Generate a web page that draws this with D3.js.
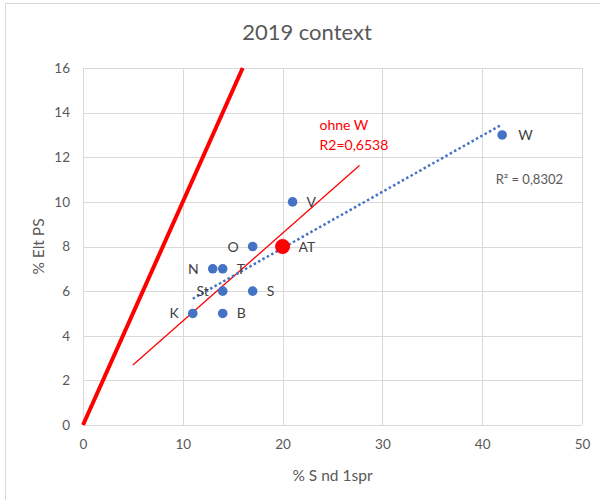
<!DOCTYPE html>
<html><head><meta charset="utf-8">
<script src="https://cdn.jsdelivr.net/npm/d3@7"></script>
<style>body{margin:0;background:#fff} text{font-family:Lato,'Open Sans',sans-serif}</style>
</head><body><svg id="c" width="600" height="500"></svg>
<script>
// ---- data ----
const names   = ["V","O","AT","N","T","St","S","K","B","W"];
const xValues = [21,17,20,13,14,14,17,11,14,42];
const yValues = [10,8,8,7,7,6,6,5,5,13];
const labelSide = ["right","left","right","left","right","left","right","left","right","right"];
const highlightedName = "AT";
const excludedName = "W";
const xTicks = [0,10,20,30,40,50];
const yTicks = [0,2,4,6,8,10,12,14,16];
const parityX = [0,16];            // thick red y = x line
const subsetLineX = [5,27.7];      // extent of red "ohne W" fit line
const title = "2019 context";
const xTitle = "% S nd 1spr";
const yTitle = "% Elt PS";
const subsetNote = "ohne W";

// ---- layout ----
const svg = d3.select("#c");
const L = 83, R = 582, T = 68, B = 425;
const x = d3.scaleLinear().domain([0,50]).range([L,R]);
const y = d3.scaleLinear().domain([0,16]).range([B,T]);
const grey = "#595959", grid = "#d9d9d9";

const pts = names.map((n,i)=>({n, x:xValues[i], y:yValues[i], side:labelSide[i]}));

function fit(arr){
  const mx = d3.mean(arr,d=>d.x), my = d3.mean(arr,d=>d.y);
  const sxy = d3.sum(arr,d=>(d.x-mx)*(d.y-my));
  const sxx = d3.sum(arr,d=>(d.x-mx)**2);
  const syy = d3.sum(arr,d=>(d.y-my)**2);
  const b = sxy/sxx, a = my - b*mx;
  return {a,b,r2:sxy*sxy/(sxx*syy)};
}
const fmt = v => d3.format(".4f")(v).replace(".",",");

// outer frame
svg.append("rect").attr("x",5.5).attr("y",3.5).attr("width",600).attr("height",500)
  .attr("fill","none").attr("stroke",grid);

// title
svg.append("text").attr("x",307).attr("y",40).attr("text-anchor","middle")
  .attr("font-size",22).attr("fill",grey).text(title);

// grid
svg.append("g").selectAll("line").data(yTicks).join("line")
  .attr("x1",L).attr("x2",R).attr("y1",d=>Math.round(y(d))+0.5).attr("y2",d=>Math.round(y(d))+0.5)
  .attr("stroke",grid);
svg.append("g").selectAll("line").data(xTicks).join("line")
  .attr("y1",T).attr("y2",B).attr("x1",d=>Math.round(x(d))+0.5).attr("x2",d=>Math.round(x(d))+0.5)
  .attr("stroke",grid);

// axes (labels only)
const yAxis = svg.append("g").attr("transform",`translate(${L},0)`)
  .call(d3.axisLeft(y).tickValues(yTicks).tickSize(0).tickPadding(13));
const xAxis = svg.append("g").attr("transform",`translate(0,${B})`)
  .call(d3.axisBottom(x).tickValues(xTicks).tickSize(0).tickPadding(14));
[yAxis,xAxis].forEach(g=>{
  g.select(".domain").remove();
  g.selectAll("text").attr("font-size",13.5).attr("fill",grey).attr("font-family","Lato,'Open Sans',sans-serif");
});

// axis titles
svg.append("text").attr("x",(L+R)/2).attr("y",481).attr("text-anchor","middle")
  .attr("font-size",15.5).attr("fill",grey).text(xTitle);
svg.append("text").attr("transform",`translate(44,${(T+B)/2}) rotate(-90)`).attr("text-anchor","middle")
  .attr("font-size",15.5).attr("fill",grey).text(yTitle);

// thick red parity line
const line = d3.line().x(d=>x(d[0])).y(d=>y(d[1]));
svg.append("path").attr("d",line(parityX.map(v=>[v,v])))
  .attr("stroke","#ff0000").attr("stroke-width",4).attr("fill","none");

// red fit without W
const fSub = fit(pts.filter(d=>d.n!==excludedName));
svg.append("path").attr("d",line(subsetLineX.map(v=>[v,fSub.a+fSub.b*v])))
  .attr("stroke","#ff0000").attr("stroke-width",1.3).attr("fill","none");

// blue dotted trendline all points
const fAll = fit(pts);
const ext = d3.extent(pts,d=>d.x);
svg.append("path").attr("d",line(ext.map(v=>[v,fAll.a+fAll.b*v])))
  .attr("stroke","#4472c4").attr("stroke-width",2.5).attr("stroke-dasharray","2.5,2.5").attr("fill","none");

// points
svg.append("g").selectAll("circle").data(pts).join("circle")
  .attr("cx",d=>x(d.x)).attr("cy",d=>y(d.y))
  .attr("r",d=>d.n===highlightedName?7.5:4.8)
  .attr("fill",d=>d.n===highlightedName?"#ff0000":"#4472c4");

// point labels
svg.append("g").selectAll("text").data(pts).join("text")
  .attr("x",d=>x(d.x)+(d.side==="right"?(d.n===highlightedName||d.n===excludedName?16:14):-14))
  .attr("y",d=>y(d.y)+5)
  .attr("text-anchor",d=>d.side==="right"?"start":"end")
  .attr("font-size",14).attr("fill","#404040").text(d=>d.n);

// annotations
const note = svg.append("text").attr("x",x(23.7)).attr("y",y(13.22))
  .attr("font-size",14).attr("fill","#ff0000");
note.append("tspan").text(subsetNote);
note.append("tspan").attr("x",x(23.7)).attr("dy",20).text("R2=" + fmt(fSub.r2));

svg.append("text").attr("x",x(41.35)).attr("y",y(10.8))
  .attr("font-size",13).attr("fill",grey).text("R² = " + fmt(fAll.r2));
</script></body></html>
